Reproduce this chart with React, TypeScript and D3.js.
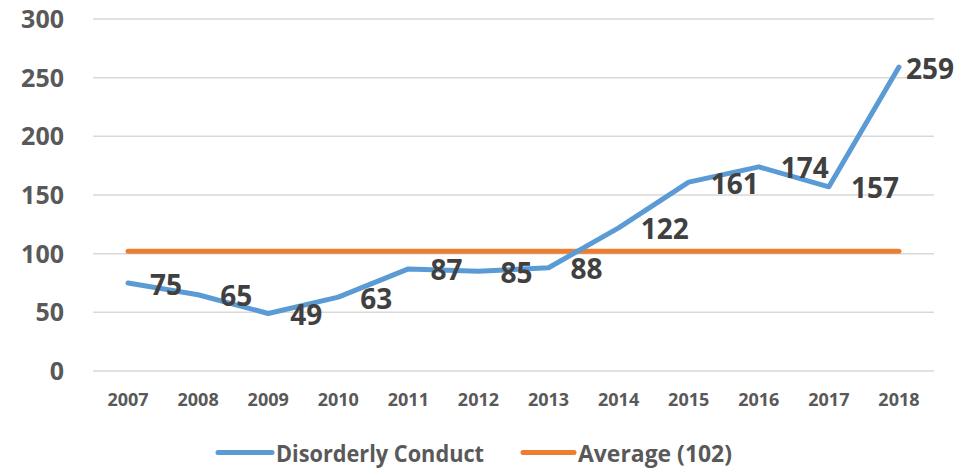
import React from 'react';
import * as d3 from 'd3';

// chart values
const years = ['2007', '2008', '2009', '2010', '2011', '2012', '2013', '2014', '2015', '2016', '2017', '2018'];
const disorderly = [75, 65, 49, 63, 87, 85, 88, 122, 161, 174, 157, 259];
const averageValue = 102;
const yTicks = [0, 50, 100, 150, 200, 250, 300];
const seriesNames = ['Disorderly Conduct', 'Average (102)'];

const W = 976;
const H = 471;
const FONT = '"Open Sans", "DejaVu Sans", sans-serif';
const BLUE = '#5B9BD5';
const ORANGE = '#ED7D31';

const App = () => {
  const x = d3.scaleBand().domain(years).range([93, 934]);
  const y = d3.scaleLinear().domain([0, 300]).range([371, 19]);
  const cx = (yr) => (x(yr) || 0) + x.bandwidth() / 2;

  const line = d3
    .line()
    .x((d, i) => cx(years[i]))
    .y((d) => y(d));

  const avgLine = d3
    .line()
    .x((d, i) => cx(years[i]))
    .y(() => y(averageValue));

  return (
    <div style={{ position: 'absolute', left: 0, top: 0 }}>
      <svg width={W} height={H} style={{ display: 'block', background: '#fff' }}>
        {/* grid */}
        {yTicks.map((t) => (
          <line key={t} x1={93} x2={934} y1={y(t)} y2={y(t)} stroke="#D9D9D9" strokeWidth={1.5} />
        ))}
        {/* y labels */}
        {yTicks.map((t) => (
          <text
            key={'yl' + t}
            x={64}
            y={y(t) + 9}
            textAnchor="end"
            fontFamily={FONT}
            fontWeight="bold"
            fontSize={25}
            fill="#595959"
          >
            {t}
          </text>
        ))}
        {/* x labels */}
        {years.map((yr) => (
          <text
            key={'xl' + yr}
            x={cx(yr)}
            y={406}
            textAnchor="middle"
            fontFamily={FONT}
            fontWeight="bold"
            fontSize={18}
            fill="#595959"
          >
            {yr}
          </text>
        ))}
        {/* average */}
        <path
          d={avgLine(years.map(() => averageValue))}
          fill="none"
          stroke={ORANGE}
          strokeWidth={5}
          strokeLinecap="round"
        />
        {/* series */}
        <path
          d={line(disorderly)}
          fill="none"
          stroke={BLUE}
          strokeWidth={5}
          strokeLinecap="round"
          strokeLinejoin="round"
        />
        {/* data labels */}
        {disorderly.map((v, i) => {
          const px = cx(years[i]);
          const label = String(v);
          const est = label.length * 16;
          const overflow = px + 22 + est > 955;
          return (
            <text
              key={'dl' + i}
              x={overflow ? 954 : px + 22}
              y={y(v) + 11.5}
              textAnchor={overflow ? 'end' : 'start'}
              fontFamily={FONT}
              fontWeight="bold"
              fontSize={28}
              fill="#404040"
            >
              {label}
            </text>
          );
        })}
        {/* legend */}
        <line x1={218} x2={272} y1={452.5} y2={452.5} stroke={BLUE} strokeWidth={5} strokeLinecap="round" />
        <text
          x={276}
          y={462}
          fontFamily={FONT}
          fontWeight="bold"
          fontSize={24}
          fill="#595959"
          textLength={208}
          lengthAdjust="spacingAndGlyphs"
        >
          {seriesNames[0]}
        </text>
        <line x1={523} x2={574} y1={452.5} y2={452.5} stroke={ORANGE} strokeWidth={5} strokeLinecap="round" />
        <text
          x={578}
          y={462}
          fontFamily={FONT}
          fontWeight="bold"
          fontSize={24}
          fill="#595959"
          textLength={154}
          lengthAdjust="spacingAndGlyphs"
        >
          {seriesNames[1]}
        </text>
      </svg>
    </div>
  );
};

export default App;
